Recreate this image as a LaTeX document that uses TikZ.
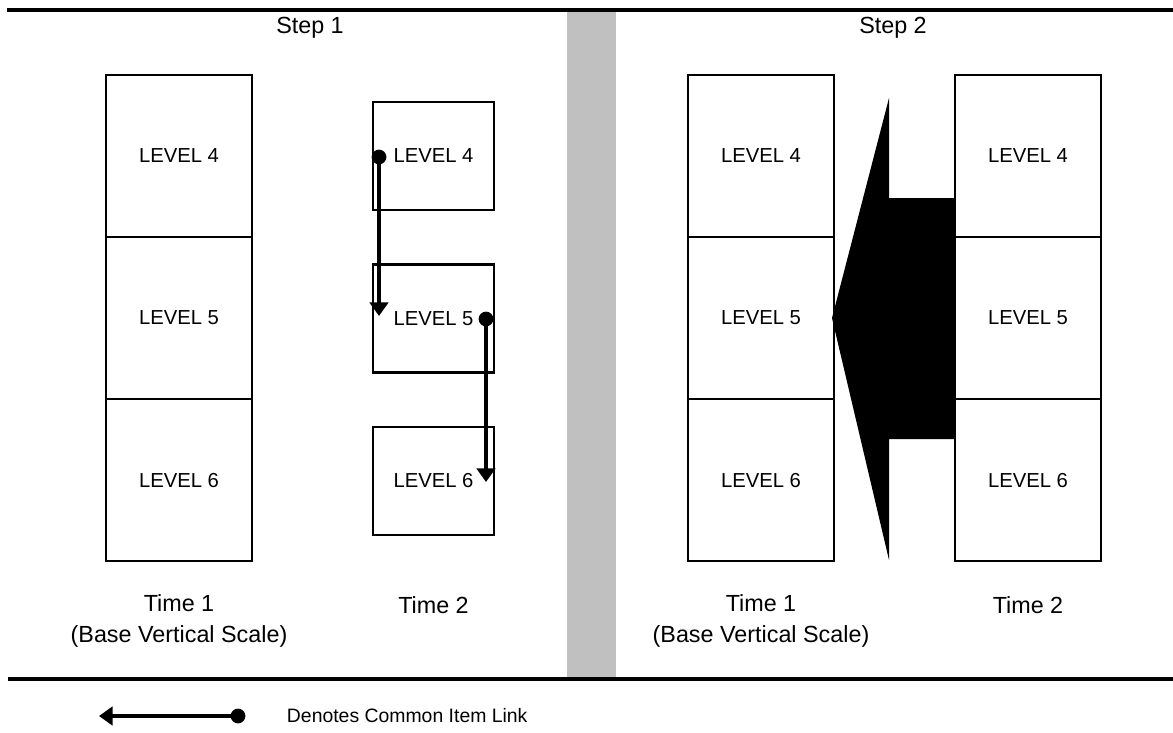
\documentclass[tikz,border=0pt]{standalone}
\usepackage{fontspec}
\setmainfont{Liberation Sans}
\usetikzlibrary{arrows.meta,positioning}
\definecolor{bargray}{RGB}{192,192,192}
\tikzset{
  bigbox/.style={draw,line width=1.7pt,minimum width=3.65cm,minimum height=4.05cm,outer sep=0pt,inner sep=0pt,font=\fontsize{14.4}{17}\selectfont},
  smallbox/.style={bigbox,minimum width=3.025cm,minimum height=2.7cm},
  caption/.style={font=\fontsize{16.6}{22}\selectfont,align=center},
  dot/.style={circle,fill,inner sep=0pt,minimum size=0.37cm},
  link/.style={line width=3pt,-{Triangle[length=0.34cm,width=0.46cm]}},
}
\begin{document}
\begin{tikzpicture}[x=0.025cm,y=-0.025cm]
\useasboundingbox (0,0) rectangle (1173,732);

\fill[bargray] (567,10) rectangle (616,679);
\draw[line width=2.3pt] (7,10) -- (1173,10);
\draw[line width=2.3pt] (8,679) -- (1173,679);

\node[caption] (stepa) at (310,28) {Step 1};
\node[caption] (stepb) at (893,28) {Step 2};

\node[bigbox] (ta4) at (179,156) {LEVEL 4};
\node[bigbox,below=0pt of ta4] (ta5) {LEVEL 5};
\node[bigbox,below=0pt of ta5] (ta6) {LEVEL 6};

\node[smallbox] (sa4) at (433.5,156) {LEVEL 4};
\node[smallbox] (sa5) at (433.5,318.5) {LEVEL 5};
\node[smallbox] (sa6) at (433.5,481) {LEVEL 6};

\node[bigbox] (tb4) at (761,156) {LEVEL 4};
\node[bigbox,below=0pt of tb4] (tb5) {LEVEL 5};
\node[bigbox,below=0pt of tb5] (tb6) {LEVEL 6};

\node[bigbox] (ub4) at (1028,156) {LEVEL 4};
\node[bigbox,below=0pt of ub4] (ub5) {LEVEL 5};
\node[bigbox,below=0pt of ub5] (ub6) {LEVEL 6};

\node[caption] (capa1) at (179,621) {Time 1\\(Base Vertical Scale)};
\node[caption] (capa2) at (433.5,605) {Time 2};
\node[caption] (capb1) at (761,621) {Time 1\\(Base Vertical Scale)};
\node[caption] (capb2) at (1028,605) {Time 2};

\node[dot] (da) at (379,157) {};
\coordinate (ea) at (379,316);
\draw[link] (da.center) -- (ea);
\node[dot] (db) at (486,319) {};
\coordinate (eb) at (486,482);
\draw[link] (db.center) -- (eb);

\fill (832,318) -- (889,98) -- (889,198) -- (954,198) -- (954,439) -- (889,439) -- (889,560) -- cycle;

\node[dot] (dl) at (238,716) {};
\coordinate (el) at (99,716);
\draw[link] (dl.center) -- (el);
\node[anchor=west,font=\fontsize{13.8}{17}\selectfont] (legend) at (282,716) {Denotes Common Item Link};
\end{tikzpicture}
\end{document}
